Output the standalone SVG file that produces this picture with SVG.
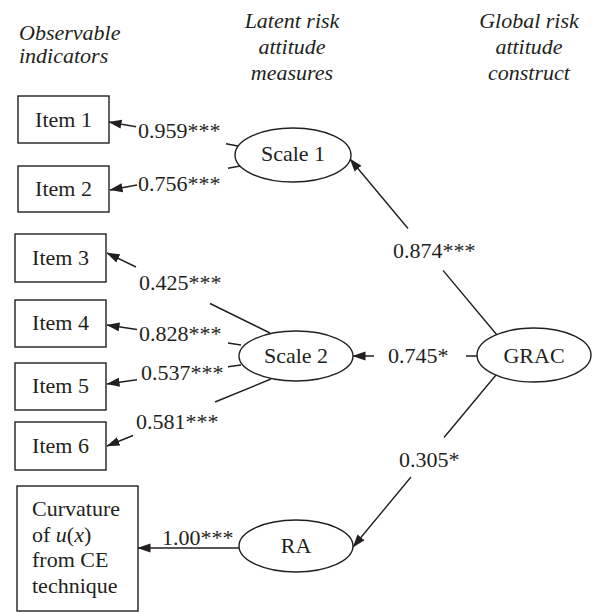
<svg xmlns="http://www.w3.org/2000/svg" width="600" height="612" viewBox="0 0 600 612">
<style>
text{font-family:"Liberation Serif","Times New Roman",serif;font-size:22px;fill:#231f20}
.h{font-style:italic}
.m{text-anchor:middle}
.box{fill:#fff;stroke:#231f20;stroke-width:1.4}
.ell{fill:#fff;stroke:#231f20;stroke-width:1.4}
.edge{fill:none;stroke:#231f20;stroke-width:1.4}
</style>
<defs>
<marker id="arr" markerUnits="userSpaceOnUse" markerWidth="13" markerHeight="10" viewBox="0 0 13 10" refX="12.5" refY="5" orient="auto">
<path d="M0 0.5 L13 5 L0 9.5 Z" fill="#231f20"/>
</marker>
</defs>
<rect width="600" height="612" fill="#fff"/>
<g id="headers">
<text class="h" x="19" y="40">Observable</text>
<text class="h" x="19" y="63">indicators</text>
<text class="h m" x="292" y="28">Latent risk</text>
<text class="h m" x="292" y="54">attitude</text>
<text class="h m" x="292" y="80">measures</text>
<text class="h m" x="529" y="28">Global risk</text>
<text class="h m" x="529" y="54">attitude</text>
<text class="h m" x="529" y="80">construct</text>
</g>
<g id="connectors">
<path class="edge" d="M238 146 L226 143.8 M136 126.8 L109 122" marker-end="url(#arr)"/>
<path class="edge" d="M240 166 L228 168.2 M137 185 L110 190" marker-end="url(#arr)"/>
<path class="edge" d="M497 335 L443 270.4 M408 228.5 L350 159" marker-end="url(#arr)"/>
<path class="edge" d="M477 356 L466 356 M374 356 L353 356" marker-end="url(#arr)"/>
<path class="edge" d="M496 375 L444 437.5 M411 477 L353 547" marker-end="url(#arr)"/>
<path class="edge" d="M270 333 L210 303.5 M136 267 L107 253" marker-end="url(#arr)"/>
<path class="edge" d="M241 345 L228 343 M137 329.5 L107 325" marker-end="url(#arr)"/>
<path class="edge" d="M241 365 L228 366.8 M137 379.8 L107 384" marker-end="url(#arr)"/>
<path class="edge" d="M271 379 L215 402 M133 435.5 L107 446" marker-end="url(#arr)"/>
<path class="edge" d="M239 548 L138 548" marker-end="url(#arr)"/>
</g>
<g id="labels">
<text x="138" y="138">0.959***</text>
<text x="138" y="191">0.756***</text>
<text x="393" y="258">0.874***</text>
<text x="388" y="363">0.745*</text>
<text x="399" y="467">0.305*</text>
<text x="139" y="290">0.425***</text>
<text x="139" y="341">0.828***</text>
<text x="141" y="380">0.537***</text>
<text x="136" y="429">0.581***</text>
<text x="162" y="545">1.00***</text>
</g>
<g id="item1"><rect class="box" x="18" y="96" width="91" height="47"/><text class="m" x="63.5" y="127">Item 1</text></g>
<g id="item2"><rect class="box" x="18" y="166" width="91" height="46"/><text class="m" x="63.5" y="196">Item 2</text></g>
<g id="item3"><rect class="box" x="15" y="234" width="91" height="48"/><text class="m" x="60.5" y="265">Item 3</text></g>
<g id="item4"><rect class="box" x="15" y="300" width="91" height="47"/><text class="m" x="60.5" y="330">Item 4</text></g>
<g id="item5"><rect class="box" x="15" y="363" width="91" height="47"/><text class="m" x="60.5" y="393">Item 5</text></g>
<g id="item6"><rect class="box" x="15" y="422" width="91" height="48"/><text class="m" x="60.5" y="453">Item 6</text></g>
<g id="curvature"><rect class="box" x="17" y="486" width="121" height="125"/>
<text x="32" y="516">Curvature</text>
<text x="32" y="542">of <tspan font-style="italic">u</tspan>(<tspan font-style="italic">x</tspan>)</text>
<text x="32" y="567">from CE</text>
<text x="32" y="593">technique</text>
</g>
<g id="scale1"><ellipse class="ell" cx="293" cy="155" rx="58" ry="27"/><text class="m" x="293" y="161">Scale 1</text></g>
<g id="scale2"><ellipse class="ell" cx="296" cy="356" rx="57" ry="25"/><text class="m" x="296" y="363">Scale 2</text></g>
<g id="ra"><ellipse class="ell" cx="296" cy="546" rx="57" ry="26"/><text class="m" x="296" y="553">RA</text></g>
<g id="grac"><ellipse class="ell" cx="534" cy="355" rx="57" ry="27"/><text class="m" x="534" y="363">GRAC</text></g>
</svg>
